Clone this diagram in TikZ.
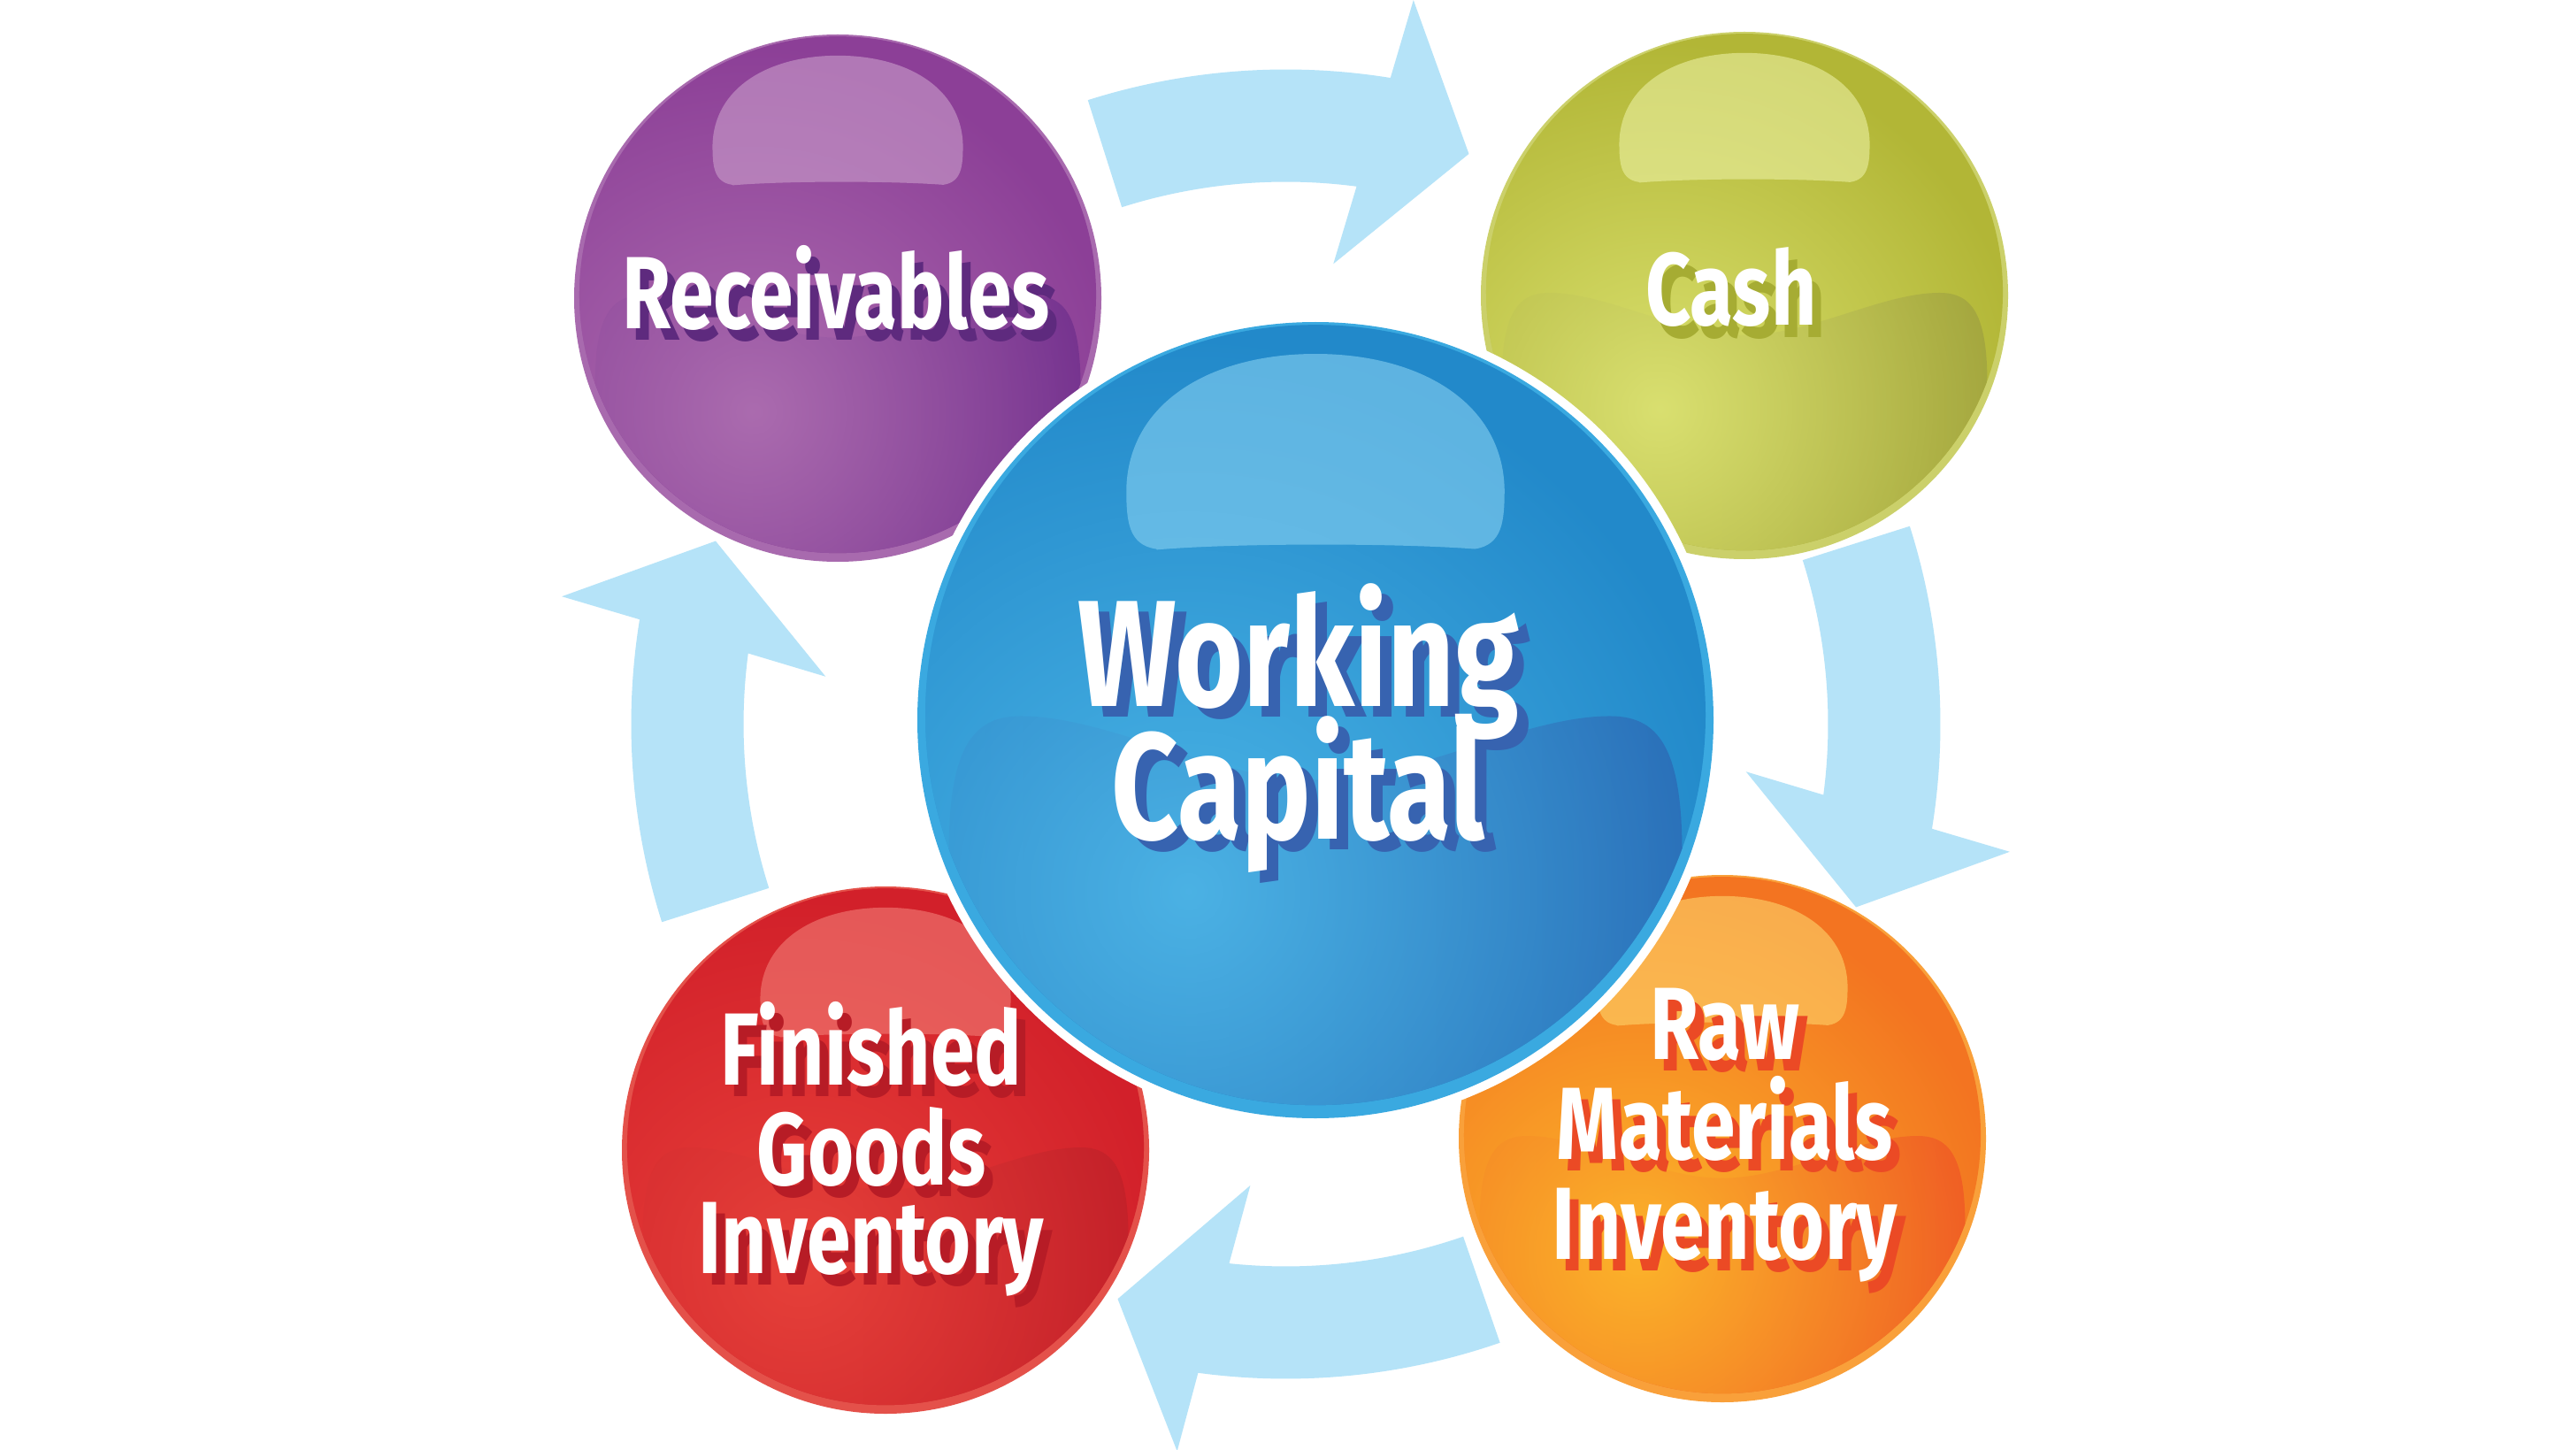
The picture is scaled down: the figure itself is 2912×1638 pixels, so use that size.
\documentclass[tikz,border=0pt]{standalone}
\usepackage{fontspec}
\newfontfamily\ballfont{Fira Sans}[FakeStretch=0.77]
\usetikzlibrary{fadings}
\newcommand\tightlines{\setlength{\lineskiplimit}{-50pt}}

\definecolor{arrowblue}{HTML}{B5E3F8}
\definecolor{recvbase}{HTML}{8C3F97}
\definecolor{recvlight}{HTML}{B375B4}
\definecolor{recvdark}{HTML}{6A2A8A}
\definecolor{recvrim}{HTML}{A86AAE}
\definecolor{recvshadow}{HTML}{5E2A7E}
\definecolor{cashbase}{HTML}{B2B636}
\definecolor{cashlight}{HTML}{E2E97A}
\definecolor{cashdark}{HTML}{9A9C3A}
\definecolor{cashrim}{HTML}{CBD06A}
\definecolor{cashshadow}{HTML}{A6AC33}
\definecolor{finbase}{HTML}{D2202A}
\definecolor{finlight}{HTML}{EC473D}
\definecolor{findark}{HTML}{BC1E28}
\definecolor{finrim}{HTML}{E4514A}
\definecolor{finshadow}{HTML}{B71C26}
\definecolor{rawbase}{HTML}{F37421}
\definecolor{rawlight}{HTML}{FEC22C}
\definecolor{rawdark}{HTML}{EE4E25}
\definecolor{rawrim}{HTML}{F9A03A}
\definecolor{rawshadow}{HTML}{EB4A25}
\definecolor{wcbase}{HTML}{2289CA}
\definecolor{wclight}{HTML}{52BCEB}
\definecolor{wcdark}{HTML}{2962B0}
\definecolor{wcrim}{HTML}{3AA9E0}
\definecolor{wcshadow}{HTML}{3763B0}

\tikzfading[name=glow, inner color=transparent!15, outer color=transparent!100]
\tikzfading[name=wavefade, left color=transparent!75, right color=transparent!20]

\begin{document}
\begin{tikzpicture}[x=0.01cm,y=0.01cm]
\tikzstyle{every node}=[inner sep=0]
\tikzstyle{cyclearrow}=[fill=arrowblue]
\tikzstyle{balltext}=[text=white,align=center,font=\ballfont\bfseries\fontsize{33}{32.1}\selectfont\tightlines]
\tikzstyle{ballshade}=[balltext,xshift=0.1cm,yshift=-0.13cm]
\tikzstyle{maintext}=[text=white,align=center,font=\ballfont\bfseries\fontsize{48.7}{42.7}\selectfont\tightlines]
\tikzstyle{mainshade}=[maintext,xshift=0.13cm,yshift=-0.12cm]

\fill[white] (0,0) rectangle (2912,1638);
\useasboundingbox (0,0) rectangle (2912,1638);

\coordinate (ring) at (1453.5,819.5);
\coordinate (wc) at (1487,824);
\coordinate (recv) at (947,1301);
\coordinate (cash) at (1972,1304);
\coordinate (fin) at (1001,338);
\coordinate (raw) at (1947,351);

% the four arrows of the cycle
\foreach \turn in {0,-90,-178.5,-270}
  \fill[cyclearrow,shift={(ring)},rotate=\turn] (107.6:740)
    arc[start angle=107.6,end angle=80.8,radius=740] -- (80:831) -- (72.2:677)
    -- (84.1:523) -- (82.5:613) arc[start angle=82.5,end angle=107.6,radius=613] -- cycle;

% balls
\foreach \bn/\rad/\edge in {recv/298/0,cash/298/0,fin/298/0,raw/298/0,wc/450/10} {
  \fill[white] (\bn) circle[radius=\rad+\edge];
  \begin{scope}[shift={(\bn)},scale=\rad]
    \fill[fill=\bn rim] (0,0) circle[radius=1];
    \begin{scope}
      \clip (0,0.013) circle[radius=0.98];
      \fill[fill=\bn base] (-1,-1) rectangle (1,1);
      \fill[fill=\bn dark,path fading=wavefade] (-0.92,-0.4)
        .. controls (-0.93,-0.08) and (-0.87,0.01) .. (-0.74,0.01)
        .. controls (-0.52,0.01) and (-0.25,-0.15) .. (0,-0.15)
        .. controls (0.25,-0.15) and (0.52,0.01) .. (0.74,0.01)
        .. controls (0.87,0.01) and (0.93,-0.08) .. (0.92,-0.4)
        .. controls (0.9,-0.78) and (0.5,-0.97) .. (0,-0.97)
        .. controls (-0.5,-0.97) and (-0.9,-0.78) .. cycle;
      \fill[fill=\bn light,path fading=glow] (-0.32,-0.43) circle[radius=1.4];
    \end{scope}
    \fill[fill=\bn light!70!white,fill opacity=0.6] (-0.4,0.43)
      .. controls (-0.47,0.44) and (-0.475,0.5) .. (-0.475,0.58)
      .. controls (-0.47,0.8) and (-0.26,0.92) .. (0,0.92)
      .. controls (0.26,0.92) and (0.47,0.8) .. (0.475,0.58)
      .. controls (0.475,0.5) and (0.47,0.44) .. (0.4,0.43)
      .. controls (0.2,0.445) and (-0.2,0.445) .. cycle;
  \end{scope}
}

% texts
\node[ballshade,text=recvshadow] (recvshade) at (945,1313) {Receivables};
\node[balltext] (recvtext) at (945,1313) {Receivables};
\node[ballshade,text=cashshadow] (cashshade) at (1957,1313) {Cash};
\node[balltext] (cashtext) at (1957,1313) {Cash};
\node[ballshade,text=finshadow] (finshade) at (985,339) {Finished\\Goods\\[-3.5pt]Inventory};
\node[balltext] (fintext) at (985,339) {Finished\\Goods\\[-3.5pt]Inventory};
\node[ballshade,text=rawshadow] (rawshade) at (1950,355) {Raw\\Materials\\Inventory};
\node[balltext] (rawtext) at (1950,355) {Raw\\Materials\\Inventory};
\node[mainshade,text=wcshadow] (wcshade) at (1468,815) {Working\\Capital};
\node[maintext] (wctext) at (1468,815) {Working\\Capital};
\end{tikzpicture}
\end{document}
